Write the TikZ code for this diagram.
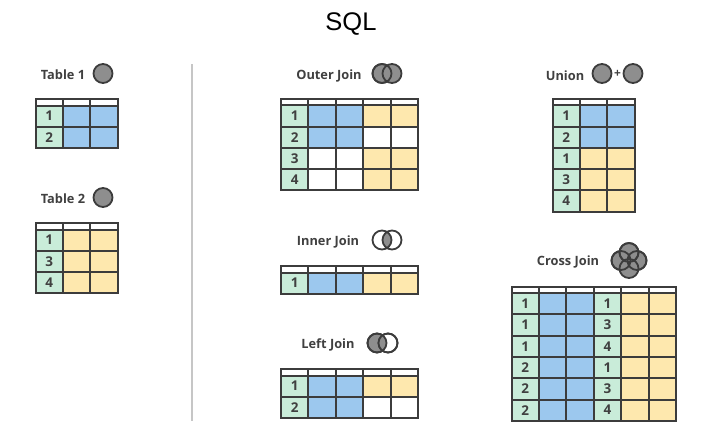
\documentclass[tikz,border=0pt]{standalone}
\usepackage{fontspec}
\setmainfont{Open Sans}
\newfontfamily\titlefont{Liberation Sans}
\definecolor{colg}{HTML}{C9ECD9}
\definecolor{colb}{HTML}{9CC8EE}
\definecolor{coly}{HTML}{FEE8AE}
\definecolor{colw}{HTML}{FFFFFF}
\definecolor{lineC}{HTML}{3C3C3C}
\definecolor{textC}{HTML}{404040}
\definecolor{vennC}{HTML}{8E8E8E}
\definecolor{ruleC}{HTML}{C6C6C6}
\newcommand{\sqltable}[4]{% prefix, x, ytop, rows
  \foreach \rowlist [count=\ri] in {#4}{
    \foreach \cellc/\cellt [count=\ci] in \rowlist{
      \node[sqlhead] (#1-h-\ci) at ({#2+(\ci-0.5)*27.4},{#3+3.25}) {};
      \node[sqlcell,fill=col\cellc] (#1-\ri-\ci) at ({#2+(\ci-0.5)*27.4},{#3+6.5+(\ri-0.5)*21.3}) {\cellt};
    }
  }
  \foreach \rowlist [count=\ri] in {#4}{
    \foreach \cellc/\cellt [count=\ci] in \rowlist{
      \draw[sqlgrid] (#1-h-\ci.north west) rectangle (#1-h-\ci.south east);
      \draw[sqlgrid] (#1-\ri-\ci.north west) rectangle (#1-\ri-\ci.south east);
    }
  }
}
\tikzset{
  sqlhead/.style={fill=white,minimum width=27.4pt,minimum height=6.5pt,inner sep=0pt,outer sep=0pt},
  sqlcell/.style={minimum width=27.4pt,minimum height=21.3pt,inner sep=0pt,outer sep=0pt,text=textC,font=\bfseries\fontsize{13.5}{15}\selectfont},
  sqlgrid/.style={draw=lineC,line width=2pt,line join=miter},
  sqllabel/.style={text=textC,inner sep=0pt,font=\bfseries\fontsize{12.8}{15}\selectfont},
  sqltitle/.style={text=black,inner sep=0pt,font=\titlefont\fontsize{25.5}{28}\selectfont},
  venn/.style={draw=lineC,line width=1.8pt,circle,minimum size=19pt,inner sep=0pt,outer sep=0pt},
  vennfill/.style={venn,fill=vennC},
}
\begin{document}
\begin{tikzpicture}[x=1pt,y=-1pt]
\useasboundingbox (0,0) rectangle (705,447);
\node[sqltitle] (title) at (351,24) {SQL};
\coordinate (ruleTop) at (192,64);
\coordinate (ruleBot) at (192,421);
\draw[ruleC,line width=1.5pt] (ruleTop) -- (ruleBot);

% labels
\node[sqllabel] (l1) at (63,75) {Table 1};
\node[sqllabel] (l2) at (63,199) {Table 2};
\node[sqllabel] (l3) at (329,76) {Outer Join};
\node[sqllabel] (l4) at (328,242) {Inner Join};
\node[sqllabel] (l5) at (328,345) {Left Join};
\node[sqllabel] (l6) at (565,76) {Union};
\node[sqllabel] (l7) at (568,262) {Cross Join};

% single circles
\node[vennfill] (c1) at (103,73.5) {};
\node[vennfill] (c2) at (103,197.5) {};

% outer
\node[vennfill] (oa) at (382,73.5) {};
\node[vennfill] (ob) at (392,73.5) {};
\node[venn] (oa2) at (382,73.5) {};

% inner
\begin{scope}
  \clip (382,240) circle (9.5);
  \fill[vennC] (392,240) circle (9.5);
\end{scope}
\node[venn] (ia) at (382,240) {};
\node[venn] (ib) at (392,240) {};

% left
\node[vennfill] (la) at (377,343) {};
\node[venn,fill=white] (lb) at (388,343) {};
\begin{scope}
  \clip (377,343) circle (9.5);
  \fill[vennC] (388,343) circle (9.5);
\end{scope}
\node[venn] (la2) at (377,343) {};
\node[venn] (lb2) at (388,343) {};

% union
\node[vennfill] (ua) at (602,73.5) {};
\node[vennfill] (ub) at (633,73.5) {};
\node[text=textC,inner sep=0pt,font=\bfseries\fontsize{12}{14}\selectfont] (up) at (617.5,74) {+};

% cross
\node[vennfill] (xa) at (621,260.5) {};
\node[vennfill] (xb) at (637,260.5) {};
\node[vennfill] (xc) at (629,252.5) {};
\node[vennfill] (xd) at (629,268.5) {};
\node[venn] (xa2) at (621,260.5) {};
\node[venn] (xb2) at (637,260.5) {};
\node[venn] (xc2) at (629,252.5) {};

% tables
\sqltable{t}{35.5}{99}{{g/1,b/,b/},{g/2,b/,b/}}
\sqltable{u}{35.5}{223}{{g/1,y/,y/},{g/3,y/,y/},{g/4,y/,y/}}
\sqltable{o}{281}{98.7}{{g/1,b/,b/,y/,y/},{g/2,b/,b/,w/,w/},{g/3,w/,w/,y/,y/},{g/4,w/,w/,y/,y/}}
\sqltable{i}{281}{266}{{g/1,b/,b/,y/,y/}}
\sqltable{j}{281}{369}{{g/1,b/,b/,y/,y/},{g/2,b/,b/,w/,w/}}
\sqltable{n}{552.5}{98.7}{{g/1,b/,b/},{g/2,b/,b/},{g/1,y/,y/},{g/3,y/,y/},{g/4,y/,y/}}
\sqltable{x}{511.5}{286.5}{{g/1,b/,b/,g/1,y/,y/},{g/1,b/,b/,g/3,y/,y/},{g/1,b/,b/,g/4,y/,y/},{g/2,b/,b/,g/1,y/,y/},{g/2,b/,b/,g/3,y/,y/},{g/2,b/,b/,g/4,y/,y/}}
\end{tikzpicture}
\end{document}
